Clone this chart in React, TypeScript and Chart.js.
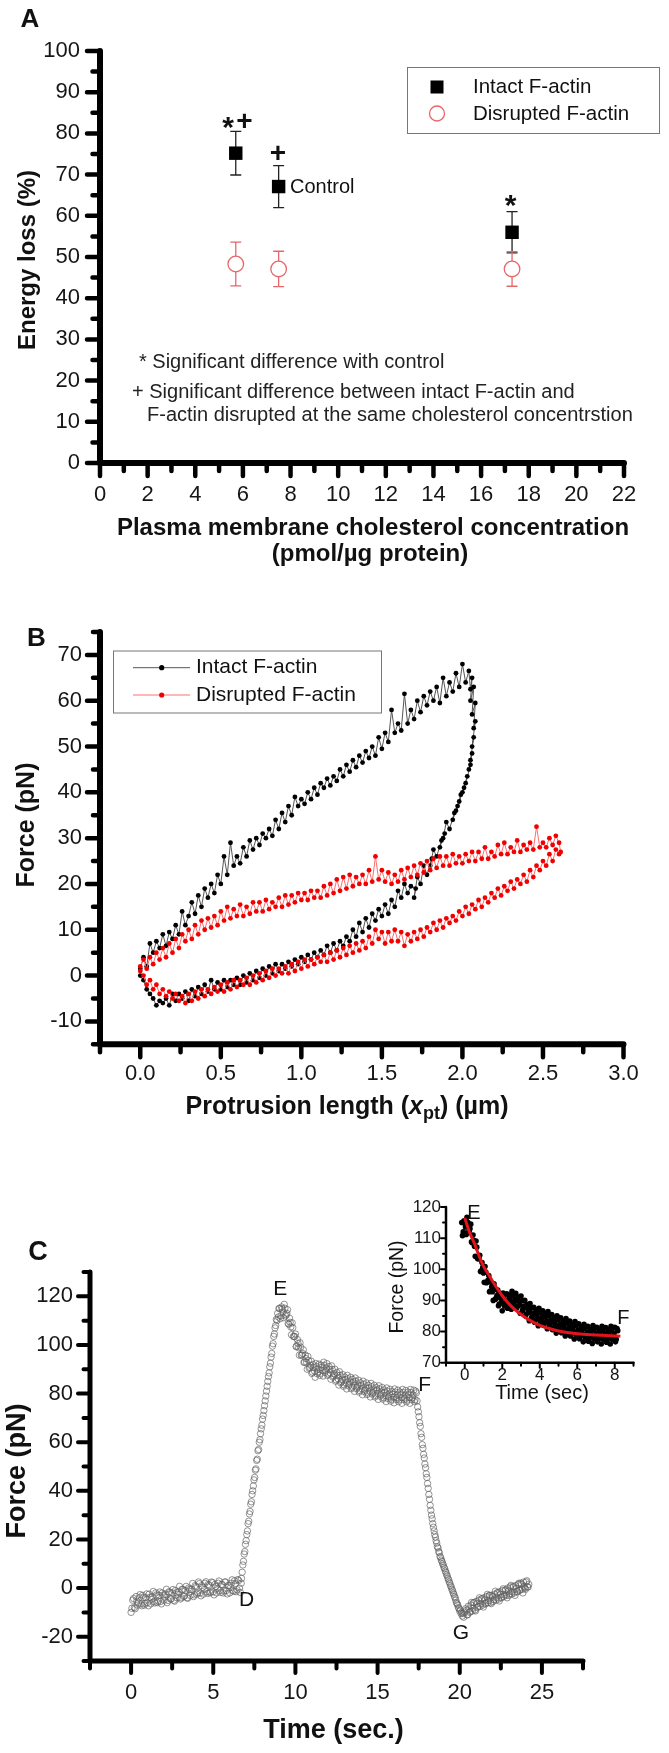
import { useEffect, useRef } from 'react';
import { Chart, registerables } from 'chart.js';

Chart.register(...registerables);

const FAMILY = '"Liberation Sans", Arial, Helvetica, sans-serif';

// ---------------- Panel A data ----------------
const seriesNames = ['Intact F-actin', 'Disrupted F-actin'];
const aCholesterol = [5.7, 7.5, 17.3];
const aIntactMean = [75.2, 67.1, 56.0];
const aIntactErr = [5.3, 5.1, 5.0];
const aDisruptedMean = [48.3, 47.1, 47.1];
const aDisruptedErr = [5.3, 4.3, 4.2];
const aXTicks = [0, 2, 4, 6, 8, 10, 12, 14, 16, 18, 20, 22];
const aXMinor = [1, 3, 5, 7, 9, 11, 13, 15, 17, 19, 21];
const aYTicks = [0, 10, 20, 30, 40, 50, 60, 70, 80, 90, 100];
const aYMinor = [5, 15, 25, 35, 45, 55, 65, 75, 85, 95];

// ---------------- Panel B data (x: protrusion length µm, y: force pN) ----------------
const bIntact: [number, number][] = [
  [0.00,1.5],[0.02,4],[0.04,2],[0.06,7],[0.08,5],[0.10,7.5],[0.12,6],[0.14,9],[0.16,6.5],[0.18,9.5],[0.20,8],[0.22,11],[0.24,9],[0.26,14],[0.28,11],[0.30,13],[0.32,16],[0.34,13.5],[0.36,17.5],[0.38,15],[0.40,19],[0.42,17],[0.44,20],[0.46,18],[0.48,22],[0.50,20],[0.52,26],[0.54,22],[0.56,29],[0.58,24],[0.60,26],[0.62,24.5],[0.64,28],[0.66,26],[0.68,29.5],[0.70,27.5],[0.72,30],[0.74,28.5],[0.76,31],[0.78,30],[0.80,32],[0.82,30.5],[0.84,34],[0.86,32],[0.88,35.5],[0.90,33.5],[0.92,37],[0.94,35],[0.96,39],[0.98,37],[1.00,38.5],[1.02,37.5],[1.04,40],[1.06,38.5],[1.08,41],[1.10,39.5],[1.12,42],[1.14,41],[1.16,43],[1.18,41.5],[1.20,43.5],[1.22,42.5],[1.24,45],[1.26,43.5],[1.28,46],[1.30,44.5],[1.32,47],[1.34,45.5],[1.36,48],[1.38,46.5],[1.40,49],[1.42,47.5],[1.44,50],[1.46,48],[1.48,52],[1.50,49.5],[1.52,53],[1.54,51],[1.56,58],[1.58,53],[1.60,55],[1.62,53.5],[1.64,61.5],[1.66,55],[1.68,58],[1.70,56],[1.72,60],[1.74,57.5],[1.76,61],[1.78,59],[1.80,62],[1.82,60],[1.84,63],[1.86,59.5],[1.88,65],[1.90,61],[1.92,64],[1.94,62],[1.96,66],[1.98,63],[2.00,68],[2.02,64],[2.04,66.5],[2.05,62.5],
  [2.06,65],[2.05,60],[2.07,63],[2.06,57],[2.08,59.5],[2.07,54],[2.08,55.5],[2.06,50],[2.07,52],[2.05,47],[2.06,48.5],[2.04,45],[2.05,46],[2.02,42],[2.03,43.5],[2.00,40],[2.01,41],[1.98,38],[1.99,39.5],[1.96,36],[1.97,37],[1.94,34],[1.95,35.5],[1.92,32],[1.90,33.5],[1.88,30],[1.89,31],[1.86,28],[1.87,29.5],[1.84,26],[1.82,27.5],[1.80,24],[1.81,25.5],[1.78,22],[1.76,24],[1.74,20],[1.72,21.5],[1.70,17],[1.71,19],[1.68,19.5],[1.66,18],[1.64,20],[1.62,17],[1.60,18.5],[1.58,15],[1.56,16.5],[1.54,13.5],[1.52,15.5],[1.50,13],[1.48,14.5],[1.46,12],[1.44,13.5],[1.42,10.5],[1.40,12.5],[1.38,9.5],[1.36,11.5],[1.34,8.5],[1.32,10],[1.30,7.5],[1.28,8.5],[1.26,6.5],[1.24,7.5],[1.22,5.5],[1.20,7],[1.18,5],[1.16,6.5],[1.14,4.5],[1.12,5.5],[1.10,4],[1.08,5],[1.06,3.5],[1.04,4.5],[1.02,3],[1.00,4],[0.98,2.5],[0.96,3.5],[0.94,2],[0.92,3],[0.90,1.5],[0.88,2.5],[0.86,1],[0.84,2.5],[0.82,0.5],[0.80,2],[0.78,0],[0.76,1.5],[0.74,-0.5],[0.72,1],[0.70,-1],[0.68,0.5],[0.66,-1.5],[0.64,0],[0.62,-2],[0.60,-0.5],[0.58,-2],[0.56,-1],[0.54,-2.5],[0.52,-1],[0.50,-3],[0.48,-1.5],[0.46,-3],[0.44,-1],[0.42,-3.5],[0.40,-2],[0.38,-4],[0.36,-2.5],[0.34,-4.5],[0.32,-3],[0.30,-5.5],[0.28,-3.5],[0.26,-5],[0.24,-4],[0.22,-5.5],[0.20,-4],[0.18,-6.5],[0.16,-5],[0.14,-6],[0.12,-5.5],[0.10,-6.5],[0.08,-5],[0.06,-4],[0.04,-3],[0.02,-1],[0.00,0],
];
const bDisrupted: [number, number][] = [
  [0.00,2],[0.02,3.5],[0.04,1.5],[0.06,4],[0.08,2.5],[0.10,5],[0.12,3.5],[0.14,6],[0.16,4],[0.18,7],[0.20,5],[0.22,8],[0.24,6],[0.26,9],[0.28,7.5],[0.30,10],[0.32,8],[0.34,11],[0.36,9],[0.38,12],[0.40,10],[0.42,12.5],[0.44,10.5],[0.46,13],[0.48,11],[0.50,14],[0.52,12],[0.54,15],[0.56,12.5],[0.58,14.5],[0.60,13],[0.62,15.5],[0.64,13],[0.66,15],[0.68,13.5],[0.70,16],[0.72,14],[0.74,16],[0.76,14],[0.78,16.5],[0.80,14.5],[0.82,16],[0.84,15],[0.86,17],[0.88,15],[0.90,17.5],[0.92,15.5],[0.94,17.5],[0.96,16],[0.98,18],[1.00,16.5],[1.02,18],[1.04,16.5],[1.06,18.5],[1.08,17],[1.10,18.5],[1.12,17],[1.14,19.5],[1.16,17.5],[1.18,20],[1.20,18],[1.22,21],[1.24,18.5],[1.26,21.5],[1.28,19],[1.30,22],[1.32,19.5],[1.34,21.5],[1.36,20],[1.38,22],[1.40,20],[1.42,23],[1.44,20.5],[1.46,26],[1.48,21],[1.50,23],[1.52,20.5],[1.54,22.5],[1.56,20],[1.58,22],[1.60,20.5],[1.62,23],[1.64,21],[1.66,23.5],[1.68,21.5],[1.70,24],[1.72,22],[1.74,24.5],[1.76,22.5],[1.78,25],[1.80,23],[1.82,25.5],[1.84,23.5],[1.86,26],[1.88,24],[1.90,26],[1.92,24],[1.94,26.5],[1.96,24.5],[1.98,26],[2.00,24.5],[2.02,26.5],[2.04,25],[2.06,27],[2.08,25],[2.10,27],[2.12,25.5],[2.14,28],[2.16,25.5],[2.18,27],[2.20,26],[2.22,28.5],[2.24,26.5],[2.26,29],[2.28,26.5],[2.30,28],[2.32,27],[2.34,29.5],[2.36,27],[2.38,28.5],[2.40,27.5],[2.42,29],[2.44,27.5],[2.46,32.5],[2.48,28],[2.50,29],[2.52,28],[2.54,30],[2.56,28.5],[2.58,30.5],[2.60,29],[2.61,27],
  [2.60,26.5],[2.58,27.5],[2.56,25],[2.54,26.5],[2.52,24],[2.50,25],[2.48,23],[2.46,24],[2.44,21.5],[2.42,23],[2.40,20.5],[2.38,22],[2.36,20],[2.34,21],[2.32,19],[2.30,20.5],[2.28,18.5],[2.26,19.5],[2.24,17.5],[2.22,19],[2.20,17],[2.18,18],[2.16,16],[2.14,17],[2.12,15],[2.10,16.5],[2.08,14.5],[2.06,15.5],[2.04,13.5],[2.02,15],[2.00,13],[1.98,14],[1.96,12],[1.94,13],[1.92,11.5],[1.90,12.5],[1.88,10.5],[1.86,12],[1.84,10],[1.82,11.5],[1.80,9.5],[1.78,10.5],[1.76,8.5],[1.74,10],[1.72,8],[1.70,9.5],[1.68,7.5],[1.66,9],[1.64,6.5],[1.62,9.5],[1.60,7.5],[1.58,10],[1.56,7.5],[1.54,9.5],[1.52,7],[1.50,9.5],[1.48,8],[1.46,10],[1.44,7],[1.42,8.5],[1.40,6],[1.38,7.5],[1.36,5.5],[1.34,7],[1.32,5],[1.30,6.5],[1.28,4.5],[1.26,6],[1.24,4],[1.22,5.5],[1.20,3.5],[1.18,5],[1.16,3],[1.14,4.5],[1.12,3],[1.10,4],[1.08,2.5],[1.06,3.5],[1.04,2],[1.02,3.5],[1.00,1.5],[0.98,3],[0.96,1],[0.94,2.5],[0.92,0.5],[0.90,2],[0.88,0.5],[0.86,1.5],[0.84,0],[0.82,1.5],[0.80,-0.5],[0.78,1],[0.76,-1],[0.74,0.5],[0.72,-1.5],[0.70,0],[0.68,-2],[0.66,-0.5],[0.64,-2],[0.62,-1],[0.60,-2.5],[0.58,-1],[0.56,-3],[0.54,-1.5],[0.52,-3.5],[0.50,-2],[0.48,-3.5],[0.46,-2.5],[0.44,-4],[0.42,-3],[0.40,-4.5],[0.38,-3],[0.36,-5],[0.34,-3.5],[0.32,-5.5],[0.30,-4],[0.28,-6],[0.26,-4.5],[0.24,-5.5],[0.22,-4],[0.20,-5],[0.18,-3.5],[0.16,-4.5],[0.14,-3],[0.12,-4],[0.10,-2],[0.08,-3],[0.06,-1],[0.04,-2],[0.02,0],[0.00,1],
];
const bXTicks = [0, 0.5, 1, 1.5, 2, 2.5, 3];
const bXTickLabels = ['0.0', '0.5', '1.0', '1.5', '2.0', '2.5', '3.0'];
const bXMinor = [-0.25, 0.25, 0.75, 1.25, 1.75, 2.25, 2.75];
const bYTicks = [-10, 0, 10, 20, 30, 40, 50, 60, 70];
const bYMinor = [-15, -5, 5, 15, 25, 35, 45, 55, 65, 75];

// ---------------- Panel C data (x: time s, y: force pN) ----------------
const cBaseline: [number, number][] = [
  [0.0,-10],[0.1,-5],[0.2,-8],[0.3,-3.5],[0.4,-7],[0.5,-4],[0.6,-6.5],[0.7,-3],[0.8,-7],[0.9,-4],[1.0,-6],[1.1,-2.5],[1.2,-6.5],[1.3,-3.5],[1.4,-5.5],[1.5,-2],[1.6,-6],[1.7,-3],[1.8,-5.5],[1.9,-2],[2.0,-5],[2.1,-2.5],[2.2,-6],[2.3,-1.5],[2.4,-4.5],[2.5,-2],[2.6,-5],[2.7,-1],[2.8,-4],[2.9,-1.5],[3.0,-4.5],[3.1,-0.5],[3.2,-3.5],[3.3,-1],[3.4,-4],[3.5,0],[3.6,-3],[3.7,-0.5],[3.8,-3.5],[3.9,1],[4.0,-2.5],[4.1,2.5],[4.2,-2],[4.3,1],[4.4,-2.5],[4.5,2],[4.6,-1.5],[4.7,1.5],[4.8,-2],[4.9,2.5],[5.0,-1.5],[5.1,1.5],[5.2,-2],[5.3,2],[5.4,-1],[5.5,1.5],[5.6,-2],[5.7,2.5],[5.8,-1],[5.9,1],[6.0,-2],[6.1,2],[6.2,-1],[6.3,3],[6.4,-1.5],[6.5,3.5],[6.6,0],[6.7,2],
  [0.05,-8.3],[0.15,-4.3],[0.25,-8.5],[0.35,-5.4],[0.45,-6.1],[0.55,-2.7],[0.65,-7.3],[0.75,-3.8],[0.85,-6.3],[0.95,-2.4],[1.05,-7.3],[1.15,-3.8],[1.25,-4.6],[1.35,-1.4],[1.45,-6.1],[1.55,-2.8],[1.65,-5.4],[1.75,-1.6],[1.85,-6.5],[1.95,-2.9],[2.05,-3.7],[2.15,-0.5],[2.25,-5.1],[2.35,-1.8],[2.45,-4.4],[2.55,-0.6],[2.65,-5.4],[2.75,-1.9],[2.85,-2.6],[2.95,0.7],[3.05,-4],[3.15,-0.6],[3.25,-3.2],[3.35,0.7],[3.45,-4.2],[3.55,-0.6],[3.65,-1.4],[3.75,1.9],[3.85,-2.8],[3.95,0.6],[4.05,-2],[4.15,1.8],[4.25,-3.2],[4.35,0.3],[4.45,-0.6],[4.55,2.6],[4.65,-2.2],[4.75,1.1],[4.85,-1.6],[4.95,2.2],[5.05,-2.8],[5.15,0.6],[5.25,-0.2],[5.35,2.9],[5.45,-1.8],[5.55,1.4],[5.65,-1.2],[5.75,2.5],[5.85,-2.4],[5.95,1],[6.05,0.2],[6.15,3.4],[6.25,-1.4],[6.35,1.9],[6.45,-0.7],[6.55,3.1],[6.65,-1.8],
];
const cRise: [number, number][] = [
  [6.72,4],[6.76,6.5],[6.80,9.5],[6.84,11],[6.88,14],[6.92,15],[6.96,18],[7.00,19.5],[7.04,22],[7.08,23.5],[7.12,26.5],[7.16,27.5],[7.20,30.5],[7.24,31.5],[7.28,34.5],[7.32,35.5],[7.36,38.5],[7.40,40],[7.44,42],[7.48,44.5],[7.52,45.5],[7.56,48.5],[7.60,49],[7.64,52.5],[7.68,53],[7.72,56.5],[7.76,57],[7.80,60],[7.84,61],[7.88,63.5],[7.92,65.5],[7.96,67],[8.00,69.5],[8.04,71],[8.08,73],[8.12,75],[8.16,77],[8.20,79],[8.24,81],[8.28,83],[8.32,85],[8.36,87],[8.40,88.5],[8.44,91],[8.48,92.5],[8.52,95],[8.56,96.5],[8.60,99.5],[8.64,100.5],[8.68,103.5],[8.72,104.5],[8.76,107],[8.80,108],[8.84,110.5],[8.88,110],[8.92,113],[8.96,111.5],[9.00,115],
];
const cPlateau: [number, number][] = [
  [9.04,115],[9.12,112],[9.20,114.8],[9.28,111.2],[9.36,115.1],[9.44,112.4],[9.52,114.5],[9.60,108.5],[9.68,109.3],[9.76,104.2],[9.84,107.1],[9.92,103.4],[10.00,104.5],[10.08,99.5],[10.16,100.6],[10.24,95.8],[10.32,99.1],[10.40,95.9],[10.48,98],[10.56,93],[10.64,94.4],[10.72,90],[10.80,93.6],[10.88,90.8],[10.96,93.3],[11.04,88.8],[11.12,90.7],[11.20,86.7],[11.28,91.1],[11.36,88.9],[11.44,92.1],[11.52,88.3],[11.60,90.8],[11.68,87.2],[11.76,91.6],[11.84,89.4],[11.92,92.3],[12.00,88],[12.08,89.9],[12.16,85.9],[12.24,89.9],[12.32,87.3],[12.40,90],[12.48,85.6],[12.56,87.5],[12.64,83.5],[12.72,87.5],[12.80,84.9],[12.88,87.8],[12.96,83.6],[13.04,85.7],[13.12,81.9],[13.20,86.1],[13.28,83.8],[13.36,86.7],[13.44,82.6],[13.52,84.8],[13.60,80.9],[13.68,85],[13.76,82.6],[13.84,85.5],[13.92,81.2],[14.00,83.3],[14.08,79.5],[14.16,83.8],[14.24,81.4],[14.32,84.4],[14.40,80.2],[14.48,82.3],[14.56,78.6],[14.64,82.8],[14.72,80.4],[14.80,83.4],[14.88,79.2],[14.96,81.4],[15.04,77.6],[15.12,81.9],[15.20,79.5],[15.28,82.5],[15.36,78.3],[15.44,80.5],[15.52,76.7],[15.60,81],[15.68,78.7],[15.76,81.7],[15.84,77.6],[15.92,79.8],[16.00,76.2],[16.08,80.6],[16.16,78.3],[16.24,81.4],[16.32,77.4],[16.40,79.6],[16.48,76],[16.56,80.4],[16.64,78.2],[16.72,81.3],[16.80,77.3],[16.88,79.6],[16.96,76],[17.04,80.4],[17.12,78.3],[17.20,81.4],[17.28,77.5],[17.36,80.3],
  [9.08,110.8],[9.16,115.6],[9.24,113.6],[9.32,116.7],[9.40,111.9],[9.48,113],[9.56,108.8],[9.64,111],[9.72,107.4],[9.80,109.1],[9.88,103.5],[9.96,103.5],[10.04,99.3],[10.12,102.2],[10.20,98.8],[10.28,100.9],[10.36,95.7],[10.44,96.5],[10.52,92.8],[10.60,95.8],[10.68,92.8],[10.76,95.3],[10.84,90.4],[10.92,91.6],[11.00,88.3],[11.08,91.9],[11.16,89.3],[11.24,92.4],[11.32,88.2],[11.40,90],[11.48,87.5],[11.56,91.7],[11.64,89.6],[11.72,92.9],[11.80,88.7],[11.88,90.4],[11.96,87.5],[12.04,91.1],[12.12,88.5],[12.20,91.4],[12.28,86.8],[12.36,88.2],[12.44,85.1],[12.52,88.7],[12.60,86.1],[12.68,89],[12.76,84.4],[12.84,85.9],[12.92,83],[13.00,86.8],[13.08,84.4],[13.16,87.5],[13.24,83.2],[13.32,84.8],[13.40,82],[13.48,85.8],[13.56,83.4],[13.64,86.4],[13.72,82],[13.80,83.6],[13.88,80.6],[13.96,84.4],[14.04,82],[14.12,85.1],[14.20,80.8],[14.28,82.4],[14.36,79.6],[14.44,83.4],[14.52,81],[14.60,84.2],[14.68,79.8],[14.76,81.5],[14.84,78.6],[14.92,82.4],[15.00,80.1],[15.08,83.2],[15.16,78.9],[15.24,80.5],[15.32,77.7],[15.40,81.5],[15.48,79.2],[15.56,82.3],[15.64,78],[15.72,79.7],[15.80,76.9],[15.88,80.8],[15.96,78.6],[16.04,81.9],[16.12,77.6],[16.20,79.4],[16.28,76.7],[16.36,80.6],[16.44,78.4],[16.52,81.7],[16.60,77.5],[16.68,79.3],[16.76,76.6],[16.84,80.6],[16.92,78.4],[17.00,81.7],[17.08,77.5],[17.16,79.4],[17.24,76.7],[17.32,81],
];
const cFall: [number, number][] = [
  [17.40,77],[17.44,74.5],[17.48,72.5],[17.52,70.5],[17.56,68],[17.60,66.5],[17.64,63.5],[17.68,62],[17.72,59],[17.76,57.5],[17.80,55],[17.84,53.5],[17.88,51],[17.92,49.5],[17.96,47],[18.00,45.5],[18.04,43],[18.08,41],[18.12,38.5],[18.16,36.5],[18.20,34],[18.24,32],[18.28,30],[18.32,28.5],[18.36,26.5],[18.40,25],[18.44,23.5],[18.48,22],[18.52,21],[18.56,19.5],[18.60,18.5],[18.64,17],[18.68,16.5],[18.72,15],[18.76,14.5],[18.80,13],[18.84,12.5],[18.88,11.5],[18.92,11],[18.96,10],[19.00,9.5],[19.04,8.5],[19.08,8],[19.12,7],[19.16,6.5],[19.20,5.5],[19.24,5],[19.28,4],[19.32,3.5],[19.36,2.5],[19.40,2],[19.44,1],[19.48,0.5],[19.52,-0.5],[19.56,-1],[19.60,-2],[19.64,-2.5],[19.68,-3.5],[19.72,-4],[19.76,-5],[19.80,-6],[19.84,-6.5],[19.88,-7],[19.92,-8],[19.96,-8.5],[20.00,-9.5],[20.04,-9],[20.08,-10.5],[20.12,-10],[20.16,-11.5],[20.20,-10.5],[20.24,-12],[20.28,-10],
];
const cRecovery: [number, number][] = [
  [20.36,-8.5],[20.44,-11],[20.52,-7.5],[20.60,-10],[20.68,-7],[20.76,-9.5],[20.84,-6],[20.92,-9],[21.00,-5.5],[21.08,-8],[21.16,-5],[21.24,-7.5],[21.32,-4.5],[21.40,-7],[21.48,-4],[21.56,-6.5],[21.64,-3.5],[21.72,-6],[21.80,-3],[21.88,-6],[21.96,-3],[22.04,-5.5],[22.12,-2.5],[22.20,-5],[22.28,-2],[22.36,-4.5],[22.44,-1.5],[22.52,-4],[22.60,-1],[22.68,-3.5],[22.76,-1],[22.84,-3],[22.92,0],[23.00,-3],[23.08,0.5],[23.16,-2.5],[23.24,0.5],[23.32,-2],[23.40,1],[23.48,-1.5],[23.56,1.5],[23.64,-1],[23.72,2],[23.80,-0.5],[23.88,2.5],[23.96,0],[24.04,2.5],[24.12,0.5],[24.20,1.5],
  [20.40,-9.2],[20.48,-11],[20.56,-8.6],[20.64,-9.6],[20.72,-5.9],[20.80,-8.3],[20.88,-6],[20.96,-9.4],[21.04,-6.5],[21.12,-7.6],[21.20,-4],[21.28,-6.5],[21.36,-4.3],[21.44,-7.8],[21.52,-5],[21.60,-6.2],[21.68,-2.6],[21.76,-5.2],[21.84,-3],[21.92,-6.4],[22.00,-3.6],[22.08,-4.8],[22.16,-1.3],[22.24,-4],[22.32,-1.8],[22.40,-5.3],[22.48,-2.6],[22.56,-3.8],[22.64,-0.3],[22.72,-2.8],[22.80,-0.6],[22.88,-4],[22.96,-1.2],[23.04,-2.4],[23.12,1.1],[23.20,-1.6],[23.28,0.6],[23.36,-3],[23.44,-0.2],[23.52,-1.5],[23.60,2],[23.68,-0.6],[23.76,1.5],[23.84,-2],[23.92,0.7],[24.00,-0.5],[24.08,3],[24.16,0.4],
];
const cXTicks = [0, 5, 10, 15, 20, 25];
const cXMinor = [-2.5, 2.5, 7.5, 12.5, 17.5, 22.5, 27.5];
const cYTicks = [-20, 0, 20, 40, 60, 80, 100, 120];
const cYMinor = [-30, -10, 10, 30, 50, 70, 90, 110, 130];

// ---------------- Inset (E to F relaxation) ----------------
const insetStartTime = 9.2; // time of point E in panel C
const insetFit: [number, number][] = [
  [0,116.5],[0.25,112],[0.5,108.5],[0.75,104.5],[1,101],[1.25,98.5],[1.5,96],[2,91.5],[2.5,88],[3,85.5],[3.5,83.5],[4,82],[4.5,81],[5,80.2],[6,79.3],[7,78.9],[8,78.6],[8.3,78.5],
];
const iXTicks = [0, 2, 4, 6, 8];
const iXMinor = [-1, 1, 3, 5, 7, 9];
const iYTicks = [70, 80, 90, 100, 110, 120];
const iYMinor = [75, 85, 95, 105, 115];

// ---------------- helpers ----------------
type Box = { left: number; top: number; width: number; height: number };
type Area = { L: number; T: number; R: number; B: number };
type AxisSpec = { min: number; max: number; ticks: number[]; labels: string[]; minor: number[]; size: number; pad: number };
type AxesStyle = { axisW: number; tickW: number; xMaj: number; xMin: number; yMaj: number; yMin: number };
type TextItem = { text: string; x: number; y: number; size: number; bold?: boolean; italic?: boolean; color?: string; align?: CanvasTextAlign; rotate?: number };

const toXY = (pts: [number, number][]) => pts.map(([x, y]) => ({ x, y }));

function linearScale(spec: AxisSpec, fit: (s: any) => void) {
  return {
    type: 'linear',
    min: spec.min,
    max: spec.max,
    grid: { display: false, drawTicks: false },
    border: { display: false },
    afterBuildTicks: (s: any) => {
      s.ticks = spec.ticks.map((v) => ({ value: v }));
    },
    afterFit: fit,
    ticks: {
      autoSkip: false,
      maxRotation: 0,
      minRotation: 0,
      padding: spec.pad,
      color: '#161616',
      font: { family: FAMILY, size: spec.size },
      callback: (_v: any, i: number) => spec.labels[i],
    },
  };
}

function fontStr(size: number, bold?: boolean, italic?: boolean) {
  return `${italic ? 'italic ' : ''}${bold ? 'bold ' : ''}${size}px ${FAMILY}`;
}

function drawTexts(ctx: CanvasRenderingContext2D, box: Box, items: TextItem[]) {
  for (const t of items) {
    ctx.save();
    ctx.translate(t.x - box.left, t.y - box.top);
    if (t.rotate) ctx.rotate((t.rotate * Math.PI) / 180);
    ctx.font = fontStr(t.size, t.bold, t.italic);
    ctx.fillStyle = t.color || '#111';
    ctx.textAlign = t.align || 'center';
    ctx.textBaseline = 'middle';
    ctx.fillText(t.text, 0, 0);
    ctx.restore();
  }
}

function drawAxes(chart: any, xs: AxisSpec, ys: AxisSpec, st: AxesStyle) {
  const ctx: CanvasRenderingContext2D = chart.ctx;
  const { left: L, right: R, top: T, bottom: B } = chart.chartArea;
  const sx = chart.scales.x;
  const sy = chart.scales.y;
  ctx.save();
  ctx.strokeStyle = '#000';
  ctx.lineCap = 'round';
  ctx.lineJoin = 'round';
  ctx.lineWidth = st.axisW;
  ctx.beginPath();
  ctx.moveTo(L, T);
  ctx.lineTo(L, B);
  ctx.lineTo(R, B);
  ctx.stroke();
  ctx.lineWidth = st.tickW;
  ctx.beginPath();
  for (const v of ys.ticks) { const y = sy.getPixelForValue(v); ctx.moveTo(L, y); ctx.lineTo(L - st.yMaj, y); }
  for (const v of ys.minor) { const y = sy.getPixelForValue(v); ctx.moveTo(L, y); ctx.lineTo(L - st.yMin, y); }
  for (const v of xs.ticks) { const x = sx.getPixelForValue(v); ctx.moveTo(x, B); ctx.lineTo(x, B + st.xMaj); }
  for (const v of xs.minor) { const x = sx.getPixelForValue(v); ctx.moveTo(x, B); ctx.lineTo(x, B + st.xMin); }
  ctx.stroke();
  ctx.restore();
}

function makeChart(
  canvas: HTMLCanvasElement,
  box: Box,
  area: Area,
  xs: AxisSpec,
  ys: AxisSpec,
  datasets: any[],
  before: ((c: any) => void) | null,
  after: (c: any) => void,
) {
  return new Chart(canvas, {
    type: 'scatter',
    data: { datasets },
    options: {
      responsive: false,
      animation: false,
      devicePixelRatio: 1,
      events: [],
      layout: { padding: { top: area.T - box.top, right: box.left + box.width - area.R, left: 0, bottom: 0 } },
      plugins: { legend: { display: false }, tooltip: { enabled: false } },
      scales: {
        x: linearScale(xs, (s: any) => { s.height = box.top + box.height - area.B; }),
        y: linearScale(ys, (s: any) => { s.width = area.L - box.left; }),
      } as any,
    } as any,
    plugins: [
      {
        id: 'decor',
        beforeDatasetsDraw: (c: any) => { if (before) before(c); },
        afterDraw: (c: any) => after(c),
      },
    ],
  } as any);
}

// ---------------- layout ----------------
const boxA: Box = { left: 0, top: 0, width: 669, height: 580 };
const areaA: Area = { L: 100, T: 51, R: 624, B: 463 };
const boxB: Box = { left: 0, top: 590, width: 669, height: 540 };
const areaB: Area = { L: 100, T: 632, R: 623.5, B: 1044.3 };
const boxC: Box = { left: 0, top: 1130, width: 669, height: 623 };
const areaC: Area = { L: 90, T: 1272, R: 583, B: 1661 };
const boxI: Box = { left: 380, top: 1190, width: 289, height: 215 };
const areaI: Area = { L: 446, T: 1207, R: 633.5, B: 1362.7 };

const RED_A = '#e8676a';

function buildA(canvas: HTMLCanvasElement) {
  const xs: AxisSpec = { min: 0, max: 22, ticks: aXTicks, labels: aXTicks.map(String), minor: aXMinor, size: 22, pad: 19 };
  const ys: AxisSpec = { min: 0, max: 100, ticks: aYTicks, labels: aYTicks.map(String), minor: aYMinor, size: 22, pad: 20 };
  const datasets = [
    {
      label: seriesNames[0],
      data: aCholesterol.map((x, i) => ({ x, y: aIntactMean[i] })),
      pointStyle: 'rect', pointRadius: 9.5, pointBackgroundColor: '#000', pointBorderColor: '#000', pointBorderWidth: 0,
    },
    {
      label: seriesNames[1],
      data: aCholesterol.map((x, i) => ({ x, y: aDisruptedMean[i] })),
      pointStyle: 'circle', pointRadius: 7.8, pointBackgroundColor: '#fff', pointBorderColor: RED_A, pointBorderWidth: 1.3,
    },
  ];
  const errorBars = [
    { means: aIntactMean, errs: aIntactErr, color: '#222' },
    { means: aDisruptedMean, errs: aDisruptedErr, color: RED_A },
  ];
  const before = (c: any) => {
    const ctx: CanvasRenderingContext2D = c.ctx;
    ctx.save();
    ctx.lineWidth = 1.3;
    for (const eb of errorBars) {
      ctx.strokeStyle = eb.color;
      ctx.beginPath();
      aCholesterol.forEach((xv, i) => {
        const px = c.scales.x.getPixelForValue(xv);
        const top = c.scales.y.getPixelForValue(eb.means[i] + eb.errs[i]);
        const bot = c.scales.y.getPixelForValue(eb.means[i] - eb.errs[i]);
        ctx.moveTo(px, top); ctx.lineTo(px, bot);
        ctx.moveTo(px - 5.5, top); ctx.lineTo(px + 5.5, top);
        ctx.moveTo(px - 5.5, bot); ctx.lineTo(px + 5.5, bot);
      });
      ctx.stroke();
    }
    ctx.restore();
  };
  const after = (c: any) => {
    const ctx: CanvasRenderingContext2D = c.ctx;
    drawAxes(c, xs, ys, { axisW: 6, tickW: 4.5, xMaj: 13, xMin: 8, yMaj: 13, yMin: 7.5 });
    ctx.save();
    ctx.translate(-boxA.left, -boxA.top);
    ctx.strokeStyle = '#777';
    ctx.lineWidth = 1;
    ctx.strokeRect(407.5, 67.5, 252, 66);
    ctx.fillStyle = '#000';
    ctx.fillRect(437 - 6.5, 87 - 6.5, 13, 13);
    ctx.strokeStyle = RED_A;
    ctx.lineWidth = 1.3;
    ctx.beginPath();
    ctx.arc(437, 113.5, 7.5, 0, Math.PI * 2);
    ctx.stroke();
    ctx.restore();
    drawTexts(ctx, boxA, [
      { text: seriesNames[0], x: 473, y: 87, size: 20.5, align: 'left' },
      { text: seriesNames[1], x: 473, y: 114, size: 20.5, align: 'left' },
      { text: 'A', x: 30, y: 19.5, size: 26, bold: true },
      { text: '*', x: 228, y: 129, size: 30, bold: true },
      { text: '+', x: 244.5, y: 122, size: 28, bold: true },
      { text: '+', x: 278, y: 154, size: 28, bold: true },
      { text: '*', x: 510.7, y: 207, size: 30, bold: true },
      { text: 'Control', x: 290, y: 187.5, size: 20, align: 'left' },
      { text: '* Significant difference with control', x: 139, y: 362, size: 20, align: 'left', color: '#222' },
      { text: '+ Significant difference between intact F-actin and', x: 132, y: 392, size: 20, align: 'left', color: '#222' },
      { text: 'F-actin disrupted at the same cholesterol concentrstion', x: 147, y: 415.5, size: 20, align: 'left', color: '#222' },
      { text: 'Energy loss (%)', x: 28.5, y: 260, size: 24, bold: true, rotate: -90 },
      { text: 'Plasma membrane cholesterol concentration', x: 373, y: 528, size: 24, bold: true },
      { text: '(pmol/\u00b5g protein)', x: 370, y: 554, size: 24, bold: true },
    ]);
  };
  return makeChart(canvas, boxA, areaA, xs, ys, datasets, before, after);
}

function buildB(canvas: HTMLCanvasElement) {
  const xs: AxisSpec = { min: -0.25, max: 3, ticks: bXTicks, labels: bXTickLabels, minor: bXMinor, size: 22, pad: 16 };
  const ys: AxisSpec = { min: -15, max: 75, ticks: bYTicks, labels: bYTicks.map(String), minor: bYMinor, size: 22, pad: 18 };
  const datasets = [
    {
      label: seriesNames[1], data: toXY(bDisrupted), showLine: true, borderColor: '#ff6e6e', borderWidth: 1,
      pointRadius: 2.4, pointBackgroundColor: '#f00000', pointBorderWidth: 0, order: 0,
    },
    {
      label: seriesNames[0], data: toXY(bIntact), showLine: true, borderColor: '#555', borderWidth: 1,
      pointRadius: 2.4, pointBackgroundColor: '#000', pointBorderWidth: 0, order: 1,
    },
  ];
  const after = (c: any) => {
    const ctx: CanvasRenderingContext2D = c.ctx;
    drawAxes(c, xs, ys, { axisW: 6, tickW: 4.5, xMaj: 13, xMin: 8, yMaj: 13, yMin: 7 });
    ctx.save();
    ctx.translate(-boxB.left, -boxB.top);
    ctx.strokeStyle = '#777';
    ctx.lineWidth = 1;
    ctx.strokeRect(113.5, 651, 268, 62);
    const rows = [
      { y: 667.7, line: '#555', dot: '#000' },
      { y: 695, line: '#ff6e6e', dot: '#f00000' },
    ];
    for (const r of rows) {
      ctx.strokeStyle = r.line;
      ctx.beginPath();
      ctx.moveTo(133, r.y); ctx.lineTo(190, r.y);
      ctx.stroke();
      ctx.fillStyle = r.dot;
      ctx.beginPath();
      ctx.arc(161.7, r.y, 2.6, 0, Math.PI * 2);
      ctx.fill();
    }
    ctx.restore();
    drawTexts(ctx, boxB, [
      { text: seriesNames[0], x: 196, y: 667.7, size: 21, align: 'left' },
      { text: seriesNames[1], x: 196, y: 695, size: 21, align: 'left' },
      { text: 'B', x: 36.5, y: 639, size: 26, bold: true },
      { text: 'Force (pN)', x: 27, y: 825, size: 25, bold: true, rotate: -90 },
    ]);
    const runs = [
      { t: 'Protrusion length (', size: 25, italic: false, dy: 0 },
      { t: 'x', size: 25, italic: true, dy: 0 },
      { t: 'pt', size: 18, italic: false, dy: 7 },
      { t: ') (\u00b5m)', size: 25, italic: false, dy: 0 },
    ];
    ctx.save();
    ctx.translate(-boxB.left, -boxB.top);
    ctx.fillStyle = '#111';
    ctx.textBaseline = 'middle';
    ctx.textAlign = 'left';
    let total = 0;
    const widths = runs.map((r) => { ctx.font = fontStr(r.size, true, r.italic); const w = ctx.measureText(r.t).width; total += w; return w; });
    let x = 347 - total / 2;
    runs.forEach((r, i) => {
      ctx.font = fontStr(r.size, true, r.italic);
      ctx.fillText(r.t, x, 1107 + r.dy);
      x += widths[i];
    });
    ctx.restore();
  };
  return makeChart(canvas, boxB, areaB, xs, ys, datasets, null, after);
}

function buildC(canvas: HTMLCanvasElement) {
  const xs: AxisSpec = { min: -2.5, max: 27.5, ticks: cXTicks, labels: cXTicks.map(String), minor: cXMinor, size: 22, pad: 19 };
  const ys: AxisSpec = { min: -30, max: 130, ticks: cYTicks, labels: cYTicks.map(String), minor: cYMinor, size: 22, pad: 17 };
  const all = [...cBaseline, ...cRise, ...cPlateau, ...cFall, ...cRecovery];
  const datasets = [
    {
      label: 'Force', data: toXY(all), pointStyle: 'circle', pointRadius: 3.2,
      pointBackgroundColor: 'rgba(255,255,255,0)', pointBorderColor: 'rgba(95,95,95,0.75)', pointBorderWidth: 0.9,
    },
  ];
  const after = (c: any) => {
    const ctx: CanvasRenderingContext2D = c.ctx;
    drawAxes(c, xs, ys, { axisW: 5, tickW: 4, xMaj: 12, xMin: 7.5, yMaj: 12, yMin: 6.5 });
    drawTexts(ctx, boxC, [
      { text: 'C', x: 38, y: 1253, size: 27, bold: true },
      { text: 'Force (pN)', x: 18, y: 1471, size: 27, bold: true, rotate: -90 },
      { text: 'Time (sec.)', x: 333.5, y: 1731, size: 27, bold: true },
      { text: 'E', x: 280.3, y: 1289.5, size: 21 },
      { text: 'F', x: 424.6, y: 1385.6, size: 21 },
      { text: 'D', x: 246.6, y: 1600.5, size: 21 },
      { text: 'G', x: 460.8, y: 1633.5, size: 21 },
    ]);
  };
  return makeChart(canvas, boxC, areaC, xs, ys, datasets, null, after);
}

function buildInset(canvas: HTMLCanvasElement) {
  const xs: AxisSpec = { min: -1, max: 9, ticks: iXTicks, labels: iXTicks.map(String), minor: iXMinor, size: 17, pad: 2 };
  const ys: AxisSpec = { min: 70, max: 120, ticks: iYTicks, labels: iYTicks.map(String), minor: iYMinor, size: 17, pad: 5 };
  const relax = cPlateau.map(([t, f]) => ({ x: t - insetStartTime, y: f }));
  const datasets = [
    {
      label: 'fit', data: toXY(insetFit), showLine: true, borderColor: '#e3141c', borderWidth: 3, pointRadius: 0,
      cubicInterpolationMode: 'monotone', order: 0,
    },
    {
      label: 'data', data: relax, pointRadius: 2.8, pointBackgroundColor: '#000', pointBorderWidth: 0, order: 1,
    },
  ];
  const after = (c: any) => {
    const ctx: CanvasRenderingContext2D = c.ctx;
    drawAxes(c, xs, ys, { axisW: 2.5, tickW: 2, xMaj: 5, xMin: 3, yMaj: 5, yMin: 3 });
    drawTexts(ctx, boxI, [
      { text: 'Force (pN)', x: 398, y: 1287, size: 19.5, rotate: -90 },
      { text: 'Time (sec)', x: 542, y: 1393.5, size: 20 },
      { text: 'E', x: 474, y: 1213.3, size: 20 },
      { text: 'F', x: 623.3, y: 1318.3, size: 20 },
    ]);
  };
  return makeChart(canvas, boxI, areaI, xs, ys, datasets, null, after);
}

export default function App() {
  const refA = useRef<HTMLCanvasElement>(null);
  const refB = useRef<HTMLCanvasElement>(null);
  const refC = useRef<HTMLCanvasElement>(null);
  const refI = useRef<HTMLCanvasElement>(null);

  useEffect(() => {
    const prevMargin = document.body.style.margin;
    document.body.style.margin = '0';
    const charts = [
      buildA(refA.current!),
      buildB(refB.current!),
      buildC(refC.current!),
      buildInset(refI.current!),
    ];
    return () => {
      charts.forEach((ch) => ch.destroy());
      document.body.style.margin = prevMargin;
    };
  }, []);

  const place = (b: Box): React.CSSProperties => ({
    position: 'absolute', left: b.left, top: b.top, width: b.width, height: b.height, display: 'block',
  });

  return (
    <div style={{ position: 'absolute', left: 0, top: 0, width: 669, height: 1753, background: '#fff', overflow: 'hidden' }}>
      <canvas ref={refA} width={boxA.width} height={boxA.height} style={place(boxA)} />
      <canvas ref={refB} width={boxB.width} height={boxB.height} style={place(boxB)} />
      <canvas ref={refC} width={boxC.width} height={boxC.height} style={place(boxC)} />
      <canvas ref={refI} width={boxI.width} height={boxI.height} style={place(boxI)} />
    </div>
  );
}
